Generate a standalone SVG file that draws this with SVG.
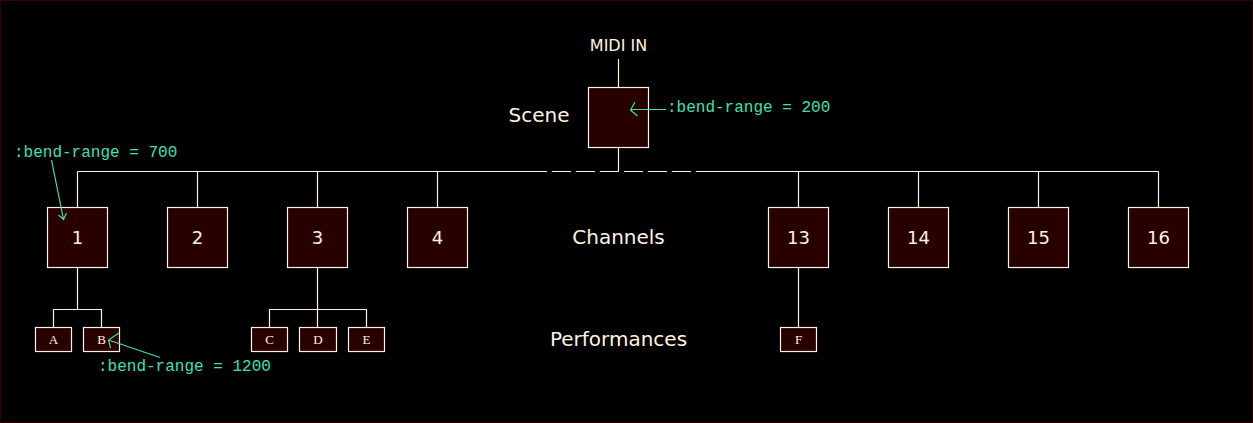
<svg xmlns="http://www.w3.org/2000/svg" width="1253" height="423" viewBox="0 0 1253 423">
<style>
.bg{fill:#000;stroke:#330000;stroke-width:1}
.box{fill:#280000;stroke:#fff3e0;stroke-width:1.2}
.ln{fill:none;stroke:#fff3e0;stroke-width:1.2}
.num{font-family:"DejaVu Sans",sans-serif;font-size:18px;fill:#fff3e0;text-anchor:middle}
.lab{font-family:"DejaVu Sans",sans-serif;font-size:20px;fill:#fff3e0;text-anchor:middle}
.midi{font-family:"DejaVu Sans",sans-serif;font-size:16px;fill:#fff3e0;text-anchor:middle}
.let{font-family:"Liberation Serif",serif;font-size:13px;fill:#fff3e0;text-anchor:middle}
.ann{font-family:"Liberation Mono",monospace;font-size:16px;fill:#40e0b0}
.al{fill:none;stroke:#40e0b0;stroke-width:1.2}
</style>
<rect class="bg" x="0.5" y="0.5" width="1252" height="422"/>
<text class="midi" x="618.5" y="51">MIDI IN</text>
<text class="lab" x="539" y="122">Scene</text>
<text class="lab" x="618.5" y="244">Channels</text>
<text class="lab" x="618.5" y="346">Performances</text>
<g id="connectors">
<path class="ln" d="M618.5 59 V87.5 M618.5 147.5 V171.5"/>
<path class="ln" d="M77.5 171.5 H547 M552 171.5 H571 M576 171.5 H595 M600 171.5 H618.5 M624 171.5 H643 M648 171.5 H667 M672 171.5 H691 M696 171.5 H1158.5"/>
<path class="ln" d="M77.5 171.5 V207.5 M197.5 171.5 V207.5 M317.5 171.5 V207.5 M437.5 171.5 V207.5 M798.5 171.5 V207.5 M918.5 171.5 V207.5 M1038.5 171.5 V207.5 M1158.5 171.5 V207.5"/>
<path class="ln" d="M77.5 267.5 V309.5 M53.5 327.5 V309.5 H101.5 V327.5"/>
<path class="ln" d="M317.5 267.5 V327.5 M269.5 327.5 V309.5 H366.5 V327.5"/>
<path class="ln" d="M798.5 267.5 V327.5"/>
</g>
<g id="scene"><rect class="box" x="588.5" y="87.5" width="60" height="60"/></g>
<g id="ch1"><rect class="box" x="47.5" y="207.5" width="60" height="60"/><text class="num" x="77.5" y="243.5">1</text></g>
<g id="ch2"><rect class="box" x="167.5" y="207.5" width="60" height="60"/><text class="num" x="197.5" y="243.5">2</text></g>
<g id="ch3"><rect class="box" x="287.5" y="207.5" width="60" height="60"/><text class="num" x="317.5" y="243.5">3</text></g>
<g id="ch4"><rect class="box" x="407.5" y="207.5" width="60" height="60"/><text class="num" x="437.5" y="243.5">4</text></g>
<g id="ch13"><rect class="box" x="768.5" y="207.5" width="60" height="60"/><text class="num" x="798.5" y="243.5">13</text></g>
<g id="ch14"><rect class="box" x="888.5" y="207.5" width="60" height="60"/><text class="num" x="918.5" y="243.5">14</text></g>
<g id="ch15"><rect class="box" x="1008.5" y="207.5" width="60" height="60"/><text class="num" x="1038.5" y="243.5">15</text></g>
<g id="ch16"><rect class="box" x="1128.5" y="207.5" width="60" height="60"/><text class="num" x="1158.5" y="243.5">16</text></g>
<g id="pA"><rect class="box" x="35.5" y="327.5" width="36" height="24"/><text class="let" x="53.5" y="343.5">A</text></g>
<g id="pB"><rect class="box" x="83.5" y="327.5" width="36" height="24"/><text class="let" x="101.5" y="343.5">B</text></g>
<g id="pC"><rect class="box" x="251.5" y="327.5" width="36" height="24"/><text class="let" x="269.5" y="343.5">C</text></g>
<g id="pD"><rect class="box" x="299.5" y="327.5" width="37" height="24"/><text class="let" x="318" y="343.5">D</text></g>
<g id="pE"><rect class="box" x="348.5" y="327.5" width="36" height="24"/><text class="let" x="366.5" y="343.5">E</text></g>
<g id="pF"><rect class="box" x="780.5" y="327.5" width="36" height="24"/><text class="let" x="798.5" y="343.5">F</text></g>
<g id="annotations">
<text class="ann" x="667" y="112">:bend-range = 200</text>
<path class="al" d="M666 109.5 H630.5 M635 102 L630.5 110 L637.5 116"/>
<text class="ann" x="14" y="157">:bend-range = 700</text>
<path class="al" d="M51.5 160 L63.5 219.5 M58.5 215 L63.5 219.5 L66.5 213"/>
<text class="ann" x="98" y="371">:bend-range = 1200</text>
<path class="al" d="M160 357.5 L108.5 340 M119 333 L108.5 340 L110.5 348"/>
</g>
</svg>
